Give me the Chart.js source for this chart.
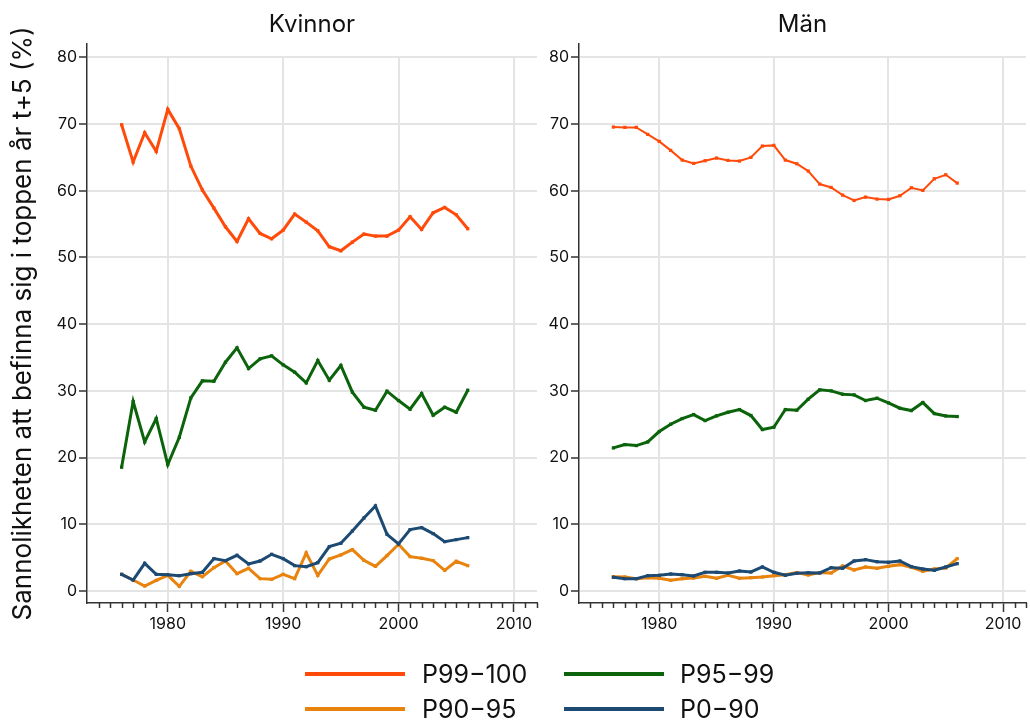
<!DOCTYPE html>
<html>
<head>
<meta charset="utf-8">
<script src="https://cdn.jsdelivr.net/npm/chart.js@4/dist/chart.umd.min.js"></script>
<style>
  html, body { margin: 0; padding: 0; background: #fff; }
  body { width: 1030px; height: 722px; position: relative; overflow: hidden; font-family: Inter, "Noto Sans", sans-serif; }
  canvas { position: absolute; top: 0; }
  #c1 { left: 0; }
  #c2 { left: 545px; }
  .lg-line { position: absolute; height: 4px; width: 100px; }
  .lg-text { position: absolute; font-size: 25px; line-height: 30px; color: #111; white-space: nowrap; }
</style>
</head>
<body>
<canvas id="c1" width="545" height="722"></canvas>
<canvas id="c2" width="485" height="722"></canvas>
<div id="legend"></div>
<script>
// ---- data ----
const years = [1976,1977,1978,1979,1980,1981,1982,1983,1984,1985,1986,1987,1988,1989,1990,1991,1992,1993,1994,1995,1996,1997,1998,1999,2000,2001,2002,2003,2004,2005,2006];

const kvinnorP99 = [69.9,64.3,68.7,65.9,72.2,69.3,63.7,60.1,57.4,54.6,52.4,55.8,53.6,52.8,54.1,56.5,55.3,54.0,51.6,51.0,52.3,53.5,53.2,53.2,54.1,56.1,54.2,56.7,57.5,56.4,54.3];
const kvinnorP95 = [18.55,28.4,22.35,25.85,18.95,23.05,28.95,31.5,31.45,34.3,36.45,33.35,34.8,35.25,33.9,32.8,31.2,34.55,31.6,33.8,29.8,27.55,27.1,29.95,28.55,27.25,29.6,26.35,27.55,26.8,30.1];
const kvinnorP90 = [2.5,1.65,0.75,1.6,2.35,0.7,2.95,2.15,3.5,4.5,2.6,3.4,1.85,1.75,2.5,1.85,5.7,2.35,4.8,5.4,6.2,4.6,3.7,5.3,7.0,5.15,4.9,4.55,3.1,4.45,3.8];
const kvinnorP0  = [2.5,1.65,4.15,2.5,2.45,2.3,2.6,2.8,4.85,4.55,5.35,4.05,4.5,5.5,4.85,3.8,3.65,4.25,6.65,7.15,9.0,10.95,12.75,8.5,7.05,9.2,9.5,8.6,7.4,7.7,8.0];

const manP99 = [69.55,69.5,69.5,68.45,67.4,66.05,64.6,64.1,64.5,64.9,64.55,64.45,65.0,66.7,66.8,64.6,64.05,62.95,61.0,60.5,59.35,58.55,59.05,58.75,58.7,59.25,60.45,60.05,61.8,62.4,61.15];
const manP95 = [21.45,21.95,21.8,22.35,23.9,25.0,25.85,26.45,25.55,26.25,26.8,27.2,26.3,24.2,24.55,27.2,27.1,28.75,30.15,30.0,29.5,29.4,28.55,28.9,28.2,27.4,27.05,28.25,26.6,26.25,26.15];
const manP90 = [2.15,2.1,1.85,2.0,1.9,1.6,1.85,1.95,2.2,1.9,2.35,1.9,2.0,2.1,2.3,2.45,2.75,2.4,2.75,2.7,3.75,3.15,3.6,3.4,3.7,3.95,3.55,2.95,3.3,3.45,4.85];
const manP0  = [2.05,1.85,1.85,2.3,2.35,2.55,2.45,2.25,2.8,2.8,2.7,3.0,2.85,3.6,2.8,2.35,2.65,2.75,2.7,3.5,3.4,4.5,4.7,4.4,4.3,4.5,3.65,3.3,3.1,3.6,4.1];

const seriesNames  = ['P99\u2212100', 'P95\u221299', 'P90\u221295', 'P0\u221290'];
const seriesColors = ['#ff4a0a', '#0b640b', '#e8830e', '#1d4a73'];

const panelTitles = ['Kvinnor', 'M\u00e4n'];
const yTitle = 'Sannolikheten att befinna sig i toppen \u00e5r t+5 (%)';
const yTicks = [0, 10, 20, 30, 40, 50, 60, 70, 80];
const xMajorTicks = [1980, 1990, 2000, 2010];
const xMin = 1973, xMax = 2012;
const yMin = -1.8, yMax = 82;

Chart.defaults.font.family = 'Inter, "Noto Sans", sans-serif';
Chart.defaults.color = '#111';

const decor = {
  id: 'decor',
  beforeDatasetsDraw(chart) {
    const { ctx, chartArea, scales: { x, y } } = chart;
    ctx.save();
    ctx.strokeStyle = '#e4e4e4';
    ctx.lineWidth = 2;
    const top = y.getPixelForValue(yTicks[yTicks.length - 1]);
    xMajorTicks.forEach(v => {
      const px = Math.round(x.getPixelForValue(v));
      ctx.beginPath(); ctx.moveTo(px, top - 1); ctx.lineTo(px, chartArea.bottom - 1); ctx.stroke();
    });
    ctx.restore();
  },
  afterDraw(chart) {
    const { ctx, chartArea, scales: { x } } = chart;
    ctx.save();
    ctx.strokeStyle = '#333';
    ctx.lineWidth = 1.5;
    for (let yr = xMin + 1; yr <= xMax; yr++) {
      if (xMajorTicks.includes(yr)) continue;
      const px = Math.round(x.getPixelForValue(yr)) + 0.5;
      ctx.beginPath(); ctx.moveTo(px, chartArea.bottom); ctx.lineTo(px, chartArea.bottom + 5); ctx.stroke();
    }
    // panel title
    ctx.fillStyle = '#111';
    ctx.font = '24px Inter, "Noto Sans", sans-serif';
    ctx.textAlign = 'center';
    ctx.textBaseline = 'middle';
    ctx.fillText(chart.options.plugins.decor.title, (chartArea.left + chartArea.right) / 2, 25);
    ctx.restore();
  }
};

function makeChart(id, arrays, title, yAxisWidth, padRight, showYTitle, thinFirst) {
  const datasets = arrays.map((arr, i) => ({
    label: seriesNames[i],
    data: years.map((yr, j) => ({ x: yr, y: arr[j] })),
    borderColor: seriesColors[i],
    backgroundColor: seriesColors[i],
    borderWidth: (thinFirst && i === 0) ? 2 : 3,
    pointStyle: 'rect',
    pointRadius: 2.3,
    pointBorderWidth: 0,
    tension: 0,
    order: arrays.length - i
  }));
  return new Chart(document.getElementById(id), {
    type: 'line',
    data: { datasets },
    plugins: [decor],
    options: {
      responsive: false,
      animation: false,
      events: [],
      layout: { padding: { top: 44, right: padRight, left: 0, bottom: 0 } },
      plugins: {
        legend: { display: false },
        tooltip: { enabled: false },
        decor: { title }
      },
      scales: {
        x: {
          type: 'linear', min: xMin, max: xMax,
          afterBuildTicks(s) { s.ticks = xMajorTicks.map(v => ({ value: v })); },
          afterFit(s) { s.height = 722 - 603; },
          grid: { display: true, drawOnChartArea: false, drawTicks: true, tickLength: 9, tickColor: '#333', tickWidth: 1.5 },
          border: { display: true, color: '#333', width: 1.5 },
          ticks: { font: { size: 16 }, color: '#111', padding: 3, maxRotation: 0, autoSkip: false, callback: v => String(v) }
        },
        y: {
          type: 'linear', min: yMin, max: yMax,
          afterBuildTicks(s) { s.ticks = yTicks.map(v => ({ value: v })); },
          afterFit(s) { s.width = yAxisWidth; },
          grid: { color: '#e4e4e4', lineWidth: 2, drawTicks: true, tickLength: 8, tickColor: '#333', tickWidth: 1.5 },
          border: { display: true, color: '#333', width: 1.5 },
          ticks: { font: { size: 16 }, color: '#111', padding: 2, autoSkip: false },
          title: { display: showYTitle, text: yTitle, font: { size: 26 }, color: '#111', padding: { top: 8, bottom: 0 } }
        }
      }
    }
  });
}

makeChart('c1', [kvinnorP99, kvinnorP95, kvinnorP90, kvinnorP0], panelTitles[0], 87, 8, true, false);
makeChart('c2', [manP99, manP95, manP90, manP0], panelTitles[1], 34, 1, false, true);

// ---- legend (HTML) ----
const legend = document.getElementById('legend');
const lgCols = [{ line: 305, text: 422 }, { line: 564, text: 680 }];
const lgRows = [674, 709];
seriesNames.forEach((name, i) => {
  const col = lgCols[i % 2], row = lgRows[Math.floor(i / 2)];
  const l = document.createElement('div');
  l.className = 'lg-line';
  l.style.left = col.line + 'px';
  l.style.top = (row - 2) + 'px';
  l.style.background = seriesColors[i];
  legend.appendChild(l);
  const t = document.createElement('div');
  t.className = 'lg-text';
  t.style.left = col.text + 'px';
  t.style.top = (row - 15) + 'px';
  t.textContent = name;
  legend.appendChild(t);
});
</script>
</body>
</html>
